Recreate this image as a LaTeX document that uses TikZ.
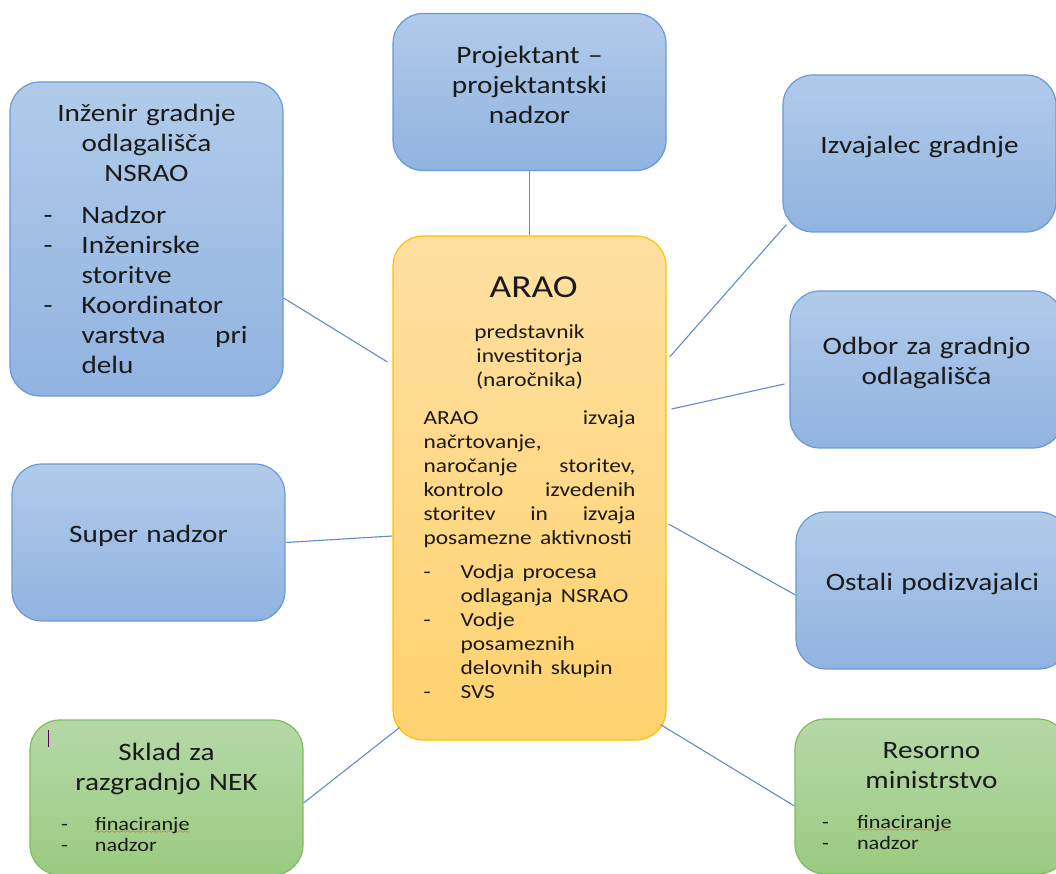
\documentclass[tikz,border=0pt]{standalone}
\usepackage{fontspec}
\setmainfont{Carlito}[FakeStretch=1.17]
\usetikzlibrary{shadings}
\setlength{\parindent}{0pt}

\definecolor{bluetop}{HTML}{B1CBEA}
\definecolor{bluebot}{HTML}{91B3E0}
\definecolor{blueline}{HTML}{6A9AD6}
\definecolor{orgtop}{HTML}{FFE0A3}
\definecolor{orgbot}{HTML}{FED26E}
\definecolor{orgline}{HTML}{FFC000}
\definecolor{grntop}{HTML}{B6D8A8}
\definecolor{grnbot}{HTML}{9ACB80}
\definecolor{grnline}{HTML}{80BC5E}
\definecolor{conn}{HTML}{6688CC}
\definecolor{ink}{HTML}{1A1A1A}

% dash of a list item, and the indent of its next lines
\newcommand{\dsh}[1][38pt]{\makebox[#1][l]{-}}
\newcommand{\ind}[1][38pt]{\hspace*{#1}}
% a justified line of a given width
\newcommand{\jline}[2]{\leavevmode\hbox to #1{#2}}
% text of the plain boxes sits a bit above the middle
\newcommand{\liftup}{\par\vspace*{14pt}}
% red wave under a word the spell checker did not know
\font\wavefont=lasy6
\newsavebox{\sperrbox}
\newcommand{\sperr}[1]{\sbox{\sperrbox}{#1}%
  \rlap{\textcolor{red}{\lower3.5pt\hbox to \wd\sperrbox{\xleaders\hbox{\wavefont\char58}\hfill}}}%
  \usebox{\sperrbox}}

\begin{document}
\begin{tikzpicture}[
    x=1pt, y=1pt,
    arr/.style={line width=1.1pt, conn},
    box/.style={draw, line width=1.2pt, rounded corners=30pt, minimum width=273pt,
        inner sep=0pt, text=ink, font=\fontsize{25}{30}\selectfont},
    bbox/.style={box, draw=blueline, top color=bluetop, bottom color=bluebot,
        minimum height=157pt, text width=240pt, align=center,
        execute at end node=\liftup},
    obox/.style={box, draw=orgline, top color=orgtop, bottom color=orgbot},
    gbox/.style={box, draw=grnline, top color=grntop, bottom color=grnbot,
        minimum height=155pt},
  ]
  \useasboundingbox (0,0) rectangle (1056,873);
  \clip (0,0) rectangle (1056,873);

  % plain blue boxes
  \foreach \n/\x/\y/\t in {
      proj/529.5/781/{Projektant –\\projektantski\\nadzor},
      izv/919.5/719.5/{Izvajalec gradnje},
      odb/926.5/503.5/{Odbor za gradnjo\\odlagališča},
      sup/148.5/330.5/{Super nadzor},
      ost/932.5/282.5/{Ostali podizvajalci}} {
      \node[bbox] (\n) at (\x,\y) {\t};
    }

  \node[box, draw=blueline, top color=bluetop, bottom color=bluebot,
    minimum height=314pt, text width=206pt] (inz) at (146.5,634) {%
    {\centering Inženir gradnje\\ odlagališča\\ NSRAO\par}
    \vspace{12pt}
    \dsh Nadzor\\
    \dsh Inženirske\\
    \ind storitve\\
    \dsh Koordinator\\
    \ind\jline{166pt}{varstva\hfill pri}\\
    \ind delu\par};

  \node[obox, minimum height=504pt, text width=212pt] (arao) at (529.5,385) {%
    \vspace*{2pt}
    {\centering\fontsize{32}{38}\selectfont ARAO\par}
    \vspace{15pt}
    \fontsize{20}{24}\selectfont
    {\centering predstavnik\\ investitorja\\ (naročnika)\par}
    \vspace{14pt}
    \jline{212pt}{ARAO\hfill izvaja}\\
    načrtovanje,\\
    \jline{212pt}{naročanje\hfill storitev,}\\
    \jline{212pt}{kontrolo\hfill izvedenih}\\
    \jline{212pt}{storitev\hfill in\hfill izvaja}\\
    posamezne aktivnosti\par
    \vspace{10pt}
    \dsh[37pt]Vodja procesa\\
    \ind[37pt]odlaganja NSRAO\\
    \dsh[37pt]Vodje\\
    \ind[37pt]posameznih\\
    \ind[37pt]delovnih skupin\\
    \dsh[37pt]SVS\par};

  \node[gbox, text width=211pt] (skl) at (166.5,75.5) {%
    {\centering Sklad za\\ razgradnjo NEK\par}
    \vspace{18pt}
    {\fontsize{19}{21.5}\selectfont
    \dsh[34pt]\sperr{finaciranje}\\
    \dsh[34pt]nadzor\par}};

  \node[gbox, text width=219pt] (res) at (931.5,76.5) {%
    {\centering Resorno\\ ministrstvo\par}
    \vspace{18pt}
    {\fontsize{19}{21.5}\selectfont
    \dsh[35pt]\sperr{finaciranje}\\
    \dsh[35pt]nadzor\par}};

  % text cursor left in the Sklad box
  \draw[line width=1pt, violet!70!black] ([xshift=19pt,yshift=-11pt]skl.north west)
    -- ([xshift=19pt,yshift=-28pt]skl.north west);

  % connectors to ARAO
  \draw[arr] (proj.south) -- (arao.north);
  \draw[arr] ([yshift=-59pt]inz.east) -- ([xshift=-5pt,yshift=126pt]arao.west);
  \draw[arr] ([xshift=4pt,yshift=8pt]izv.south west) -- ([xshift=3pt,yshift=131pt]arao.east);
  \draw[arr] ([xshift=-5pt,yshift=-14.5pt]odb.west) -- ([xshift=5pt,yshift=79pt]arao.east);
  \draw[arr] (sup.east) -- ([yshift=-48pt]arao.west);
  \draw[arr] ([yshift=-4.5pt]ost.west) -- ([xshift=2pt,yshift=-36pt]arao.east);
  \draw[arr] ([yshift=-5.5pt]skl.east) -- ([xshift=7pt,yshift=13pt]arao.south west);
  \draw[arr] ([yshift=-9.5pt]res.west) -- ([xshift=-6pt,yshift=16pt]arao.south east);
\end{tikzpicture}
\end{document}
